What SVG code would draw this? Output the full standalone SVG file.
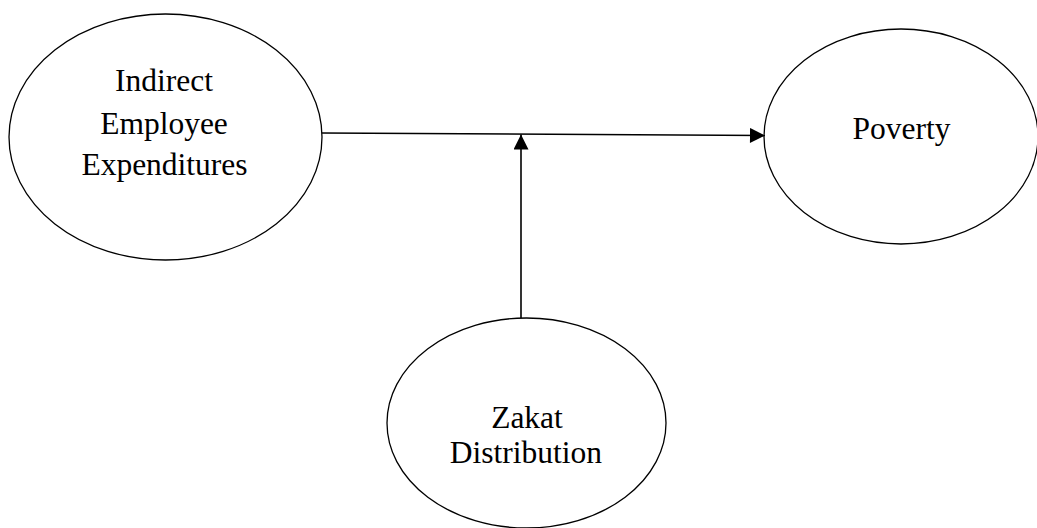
<svg xmlns="http://www.w3.org/2000/svg" width="1037" height="528" viewBox="0 0 1037 528">
<style>
.node ellipse{fill:#fff;stroke:#000;stroke-width:1.3}
.node text{font-family:"Liberation Serif","Times New Roman",serif;font-size:31.5px;fill:#000;text-anchor:middle}
.conn line{stroke:#000;stroke-width:1.6}
</style>
<defs>
<marker id="ah" viewBox="0 0 10 10" refX="10" refY="5" markerWidth="17" markerHeight="15" markerUnits="userSpaceOnUse" orient="auto">
<path d="M0,0 L10,5 L0,10 z" fill="#000"/>
</marker>
</defs>
<rect width="1037" height="528" fill="#fff"/>
<g id="n-indirect" class="node">
<ellipse cx="165.5" cy="137" rx="156.5" ry="123"/>
<text x="164" y="91">Indirect</text>
<text x="164" y="134">Employee</text>
<text x="164.5" y="175">Expenditures</text>
</g>
<g id="n-poverty" class="node">
<ellipse cx="901" cy="136.5" rx="137" ry="107.5"/>
<text x="901.5" y="139">Poverty</text>
</g>
<g id="n-zakat" class="node">
<ellipse cx="526.5" cy="423" rx="139.5" ry="105"/>
<text x="527" y="428">Zakat</text>
<text x="526" y="463">Distribution</text>
</g>
<g id="connectors" class="conn">
<line x1="322" y1="133" x2="765" y2="135.5" marker-end="url(#ah)"/>
<line x1="521" y1="318" x2="521" y2="134.5" marker-end="url(#ah)"/>
</g>
</svg>
